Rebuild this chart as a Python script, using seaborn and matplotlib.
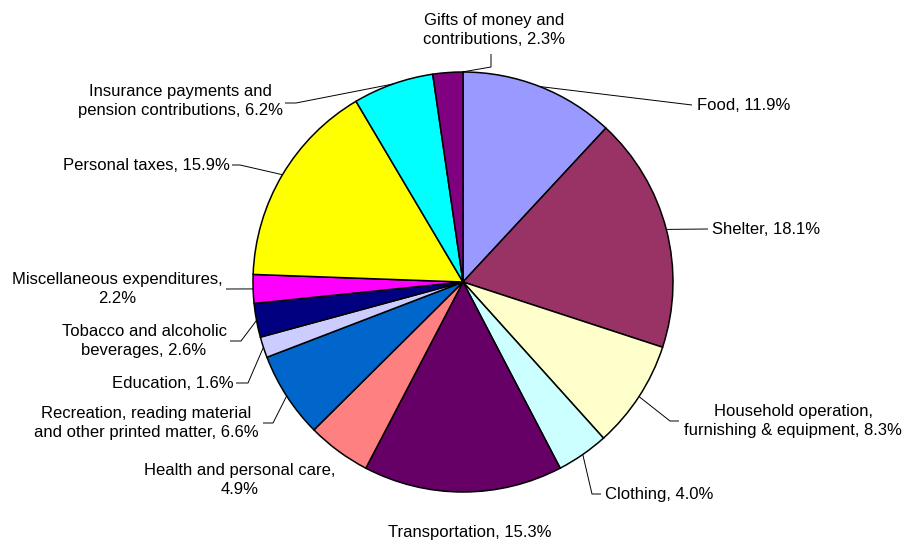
import numpy as np
import matplotlib
matplotlib.use("Agg")
import matplotlib.pyplot as plt
import seaborn as sns

categories = [
    "Food", "Shelter", "Household operation,\nfurnishing & equipment", "Clothing",
    "Transportation", "Health and personal care,\n", "Recreation, reading material\nand other printed matter",
    "Education", "Tobacco and alcoholic\nbeverages", "Miscellaneous expenditures,\n",
    "Personal taxes", "Insurance payments and\npension contributions", "Gifts of money and\ncontributions",
]
values = [11.9, 18.1, 8.3, 4.0, 15.3, 4.9, 6.6, 1.6, 2.6, 2.2, 15.9, 6.2, 2.3]
colors = ["#9999FF", "#993366", "#FFFFCC", "#CCFFFF", "#660066", "#FF8080", "#0066CC",
          "#CCCCFF", "#000080", "#FF00FF", "#FFFF00", "#00FFFF", "#800080"]

# layout (pixel coords, y from top): text position, alignment, leader path after edge point,
# fraction along the wedge arc where the leader starts
layout = [
    ((697, 105), "left", [(692, 105)], 0.5),
    ((712, 229), "left", [(708, 229)], 0.5),
    ((793, 421), "center", [(670, 421), (679, 421)], 0.5),
    ((605, 494), "left", [(592, 494), (601, 494)], 0.5),
    ((470, 532), "center", None, 0.5),
    ((240, 480), "center", None, 0.5),
    ((146, 423), "center", [(273, 423), (263, 423)], 0.5),
    ((234, 383), "right", [(248, 383), (236, 383)], 0.5),
    ((144, 341), "center", [(241, 341), (230, 341)], 0.5),
    ((117, 289), "center", [(226, 289)], 0.5),
    ((230, 165), "right", [(240, 165), (232, 165)], 0.5),
    ((180, 101), "center", [(296, 103), (285, 103)], 0.5),
    ((494, 30), "center", [(491, 67), (491, 54)], 0.97),
]

W, H = 905, 545
sns.set_theme(style="white")
plt.rcParams["font.family"] = ["Liberation Sans", "DejaVu Sans"]

fig = plt.figure(figsize=(W / 100, H / 100), dpi=100)
fig.patch.set_facecolor("white")
ax = fig.add_axes([0, 0, 1, 1])

def P(x, y):
    return (x, H - y)

cx, cy = 463, 282
R = 210
wedges, _ = ax.pie(values, colors=sns.color_palette(colors), startangle=90, counterclock=False,
                   center=P(cx, cy), radius=R,
                   wedgeprops=dict(edgecolor="black", linewidth=1.1))
ax.set_xlim(0, W)
ax.set_ylim(0, H)
ax.set_aspect("equal")
ax.axis("off")

for w, cat, val, (tpos, ha, path, frac) in zip(wedges, categories, values, layout):
    # wedges drawn clockwise: theta2 is the start, theta1 the end
    ang = np.deg2rad(w.theta2 + frac * (w.theta1 - w.theta2))
    ex, ey = cx + R * np.cos(ang), cy - R * np.sin(ang)
    if cat.endswith("\n"):
        txt = cat.rstrip("\n") + f"\n{val:.1f}%"
    else:
        txt = f"{cat}, {val:.1f}%"
    if path:
        pts = [(ex, ey)] + path
        xs = [p[0] for p in pts]
        ys = [H - p[1] for p in pts]
        ax.plot(xs, ys, color="black", lw=0.7, solid_capstyle="butt")
    ax.text(*P(*tpos), txt, ha=ha, va="center", multialignment="center",
            fontsize=12, color="black", linespacing=1.4)

fig.savefig("out.png", dpi=100, facecolor="white")
